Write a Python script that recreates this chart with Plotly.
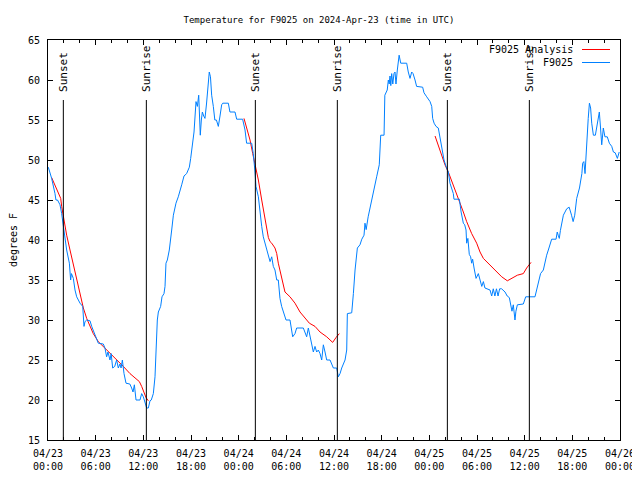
import pandas as pd
import plotly.graph_objects as go

BASE = pd.Timestamp("2024-04-23 00:00")

# Observed F9025 temperature (hours since 04/23 00:00 UTC, degrees F)
obs_hours = [0.04, 0.46, 0.88, 1.0, 1.2, 1.51, 1.72, 1.93, 2.14, 2.35, 2.69, 2.85, 2.95, 3.19, 3.40, 3.61,
             4.03, 4.37, 4.53, 4.66, 4.87, 5.29, 5.50, 5.92, 6.33, 6.96, 7.17, 7.38, 7.55, 7.80, 7.95, 8.14,
             8.4, 8.64, 8.85, 9.05, 9.2, 9.36, 9.57, 9.82, 10.3, 10.53, 10.7, 10.87, 11.08, 11.58, 11.79, 12.0,
             12.21, 12.42, 12.63, 12.84, 13.0, 13.26, 13.47, 13.6, 13.76, 13.89, 14.18, 14.35, 14.6, 14.73,
             14.85, 15.02, 15.27, 15.57, 15.78, 16.11, 16.4, 16.83, 17.12, 17.45, 17.79, 17.96, 18.17, 18.38,
             18.63, 18.8, 18.97, 19.05, 19.17, 19.3, 19.43, 19.6, 19.76, 19.95, 20.18, 20.3, 20.45, 20.6,
             20.81, 21.0, 21.2, 21.44, 21.65, 21.86, 22.0, 22.7, 22.9, 23.54, 23.75, 24.5, 24.8, 25.0, 25.64,
             25.84, 26.06, 26.18, 26.48, 26.69, 26.9, 27.1, 27.32, 27.53, 27.73, 27.95, 28.16, 28.36, 28.57,
             28.79, 28.99, 29.2, 29.41, 29.62, 29.96, 30.46, 30.67, 30.8, 31.09, 31.3, 32.14, 32.35, 32.56,
             32.77, 32.98, 33.19, 33.4, 33.61, 33.82, 34.03, 34.24, 34.45, 34.66, 34.87, 35.08, 35.5, 35.71,
             35.92, 36.34, 36.55, 36.76, 36.97, 37.39, 37.6, 37.68, 38.23, 38.44, 38.65, 38.94, 39.27, 39.5,
             39.78, 39.9, 40.05, 40.3, 40.5, 40.75, 40.95, 41.16, 41.37, 41.7, 41.88, 42.3, 42.4, 42.7, 42.84,
             42.95, 43.05, 43.15, 43.26, 43.4, 43.55, 43.68, 43.8, 43.97, 44.2, 44.4, 45.15, 45.35, 45.57,
             45.78, 45.95, 46.2, 46.4, 47.16, 47.33, 47.67, 48.09, 48.3, 48.42, 48.6, 48.84, 49.13, 49.34,
             49.56, 49.85, 50.1, 50.39, 50.6, 51.02, 51.1, 51.78, 52.0, 52.28, 52.45, 52.62, 52.7, 52.85,
             53.03, 53.2, 53.33, 53.45, 53.63, 53.88, 54.17, 54.35, 54.6, 54.8, 55.0, 55.64, 55.85, 56.05,
             56.25, 56.45, 56.65, 56.85, 57.1, 57.53, 57.8, 58.07, 58.24, 58.4, 58.57, 58.78, 58.9, 59.08,
             59.83, 60.13, 61.3, 61.5, 61.72, 62.0, 62.35, 62.56, 62.77, 62.98, 63.19, 63.4, 63.95, 64.1,
             64.22, 64.36, 64.5, 64.66, 64.87, 65.29, 65.6, 65.9, 66.1, 66.3, 66.55, 66.9, 67.2, 67.3, 67.45,
             67.6, 67.8, 68.0, 68.15, 68.3, 68.44, 68.65, 68.9, 69.07, 69.28, 69.4, 69.55, 69.7, 69.9, 70.1,
             70.4, 70.66, 70.96, 71.17, 71.4, 71.67, 71.9]
obs_temps = [49.1, 47.7, 45.8, 45, 45, 44.4, 43.3, 41.7, 40.4, 38.75, 37.1, 35, 35.8, 35.2, 33.75, 32.9,
             32.1, 31.7, 29.2, 29.8, 30, 29.9, 29.2, 28.1, 27.1, 27, 26.5, 25.4, 26, 25, 25.8, 24,
             24.2, 25, 24, 24.5, 24, 25, 23.3, 22.1, 22, 21.5, 21, 21.9, 20, 20, 20.8, 20.4,
             19.6, 19, 19, 19.9, 20, 20.8, 22.9, 26.25, 30, 31, 31.7, 32.9, 33.3, 34.2,
             37.1, 37.5, 38.75, 41.25, 43.1, 44.6, 45.4, 46.9, 48, 48.3, 49.1, 50.2, 51.7, 53.5,
             57.3, 56.7, 58.1, 54.6, 53.1, 55, 56, 55.5, 55.2, 57, 60, 61, 60.4, 58.1,
             56.7, 55, 55, 54.2, 55.5, 56.9, 57.1, 57.1, 56, 56, 55.1, 55.1, 53.75, 52.1, 52.1,
             50.8, 48.5, 46.7, 45.4, 43.3, 41.7, 40.4, 39.6, 38.75, 38.3, 37.3, 37.9, 36.7, 36.25,
             35, 35, 32.7, 31.7, 31.0, 30, 30, 28.75, 27.9, 28.3, 29, 29, 28.3, 27.9,
             29, 27.9, 26.9, 26.0, 26.7, 26.0, 26.25, 25.8, 25, 26.9, 26, 25, 25, 24.4,
             24, 24, 22.9, 23.3, 24, 25, 26.25, 30.8, 30.9, 33.3, 36.25, 39.0, 39.4, 40.1,
             40.6, 42.1, 41.3, 42.9, 43.9, 45.2, 46.25, 47.1, 47.9, 49.4, 53.1, 53.1, 58.1, 58.75, 60,
             59.5, 60.5, 59.3, 60.8, 59.5, 60.8, 61.0, 59.5, 61.25, 63.1, 62.1, 62.1, 61.0, 60.2,
             61, 60.8, 60, 59.2, 59.1, 58.4, 57.9, 57.3, 56.7, 55.2, 54.6, 54.2, 54.0, 52.9,
             51.5, 50, 49.2, 48.5, 47.1, 45.8, 45.1, 45.1, 43.5, 42.1, 41.9, 41.25, 39.6, 40.2,
             38.2, 37.9, 37.1, 37.6, 36.5, 35.2, 35.8, 35.2, 34.2, 34.8, 34.0, 33.75, 33.0, 33.9,
             33.0, 33.9, 33.0, 33.9, 33.9, 33.5, 33.0, 32.8, 31.7, 31.1, 31.9, 30, 31.1, 31.9,
             32.0, 32.9, 32.9, 33.75, 34.8, 35.8, 36.25, 37.3, 38.1, 38.75, 39.6, 40.1, 40.1, 41.0,
             40.6, 40.2, 41.2, 41.9, 43.1, 43.9, 44.1, 43.1, 42.3, 43.1, 45.2, 46.5, 48.3, 49.6, 49.8,
             48.3, 52.7, 55.2, 57.1, 56.5, 54.6, 53.1, 53.1, 54.0, 55.2, 56.0, 54, 51.9, 54.0, 52.9,
             52.9, 52.1, 51.7, 51.0, 50.9, 50.2, 51.0]

# F9025 Analysis, three overnight segments
ana1_hours = [0.46, 1.3, 1.6, 1.72, 1.93, 2.35, 2.77, 3.19, 3.61, 4.03, 4.45, 4.87, 5.29, 5.7, 6.33,
              7.17, 7.8, 8.64, 9.48, 10.32, 11.16, 11.5, 11.79, 12.08, 12.34, 12.63]
ana1_temps = [47.8, 46.0, 45.2, 44.2, 42.9, 40.6, 38.75, 36.9, 35, 33.1, 31.5, 30.2, 29.2, 28.3, 27.3,
              26.5, 25.8, 25, 24.2, 23.3, 22.6, 22.3, 21.7, 21.0, 20.3, 19.9]
ana2_hours = [24.67, 25.0, 25.43, 25.77, 26.06, 26.48, 26.9, 27.32, 27.74, 27.95, 28.16, 28.57, 28.79,
              28.99, 29.29, 29.54, 29.83, 30.46, 31.09, 31.72, 32.35, 32.9, 33.61, 34.24, 35.08, 35.83,
              36.25, 36.67]
ana2_temps = [55.2, 54.0, 52.5, 50.8, 49.6, 47.5, 45, 42.7, 40.3, 39.8, 39.6, 39.0, 38.3,
              37.1, 35.8, 34.6, 33.5, 32.9, 32.1, 31.0, 30.2, 29.6, 29.2, 28.5, 27.9, 27.2,
              27.8, 28.3]
ana3_hours = [48.72, 49.34, 49.97, 50.39, 51.02, 51.65, 52.28, 52.7, 53.33, 53.96, 54.38, 54.8, 55.43,
              56.27, 57.11, 57.82, 58.37, 59.08, 59.83, 60.25, 60.8]
ana3_temps = [53.0, 51.25, 49.4, 48.5, 46.9, 45.2, 43.5, 42.3, 40.8, 39.6, 38.5, 37.7, 37.1,
              36.25, 35.4, 34.9, 35.2, 35.6, 35.8, 36.5, 37.2]

# Sun events (hours since 04/23 00:00 UTC)
sun_hours = [1.93, 12.38, 26.1, 36.42, 50.27, 60.59]
sun_labels = ["Sunset", "Sunrise", "Sunset", "Sunrise", "Sunset", "Sunrise"]

title_text = "Temperature for F9025 on 2024-Apr-23 (time in UTC)"
y_title = "degrees F"


def to_time(hours):
    return [BASE + pd.Timedelta(hours=h) for h in hours]


FONT = "DejaVu Sans Mono"
RED = "#ff0000"
BLUE = "#0080ff"

# the page body adds an 8px offset; size the figure so it fills the 640x480 window
OFF = 8
W, H = 640 - OFF, 480 - OFF
# plot area in window pixels
L, R, T, B = 48, 620, 40, 440

ana_x, ana_y = [], []
for hs, ts in [(ana1_hours, ana1_temps), (ana2_hours, ana2_temps), (ana3_hours, ana3_temps)]:
    ana_x += to_time(hs) + [None]
    ana_y += ts + [None]

fig = go.Figure()
fig.add_trace(go.Scatter(x=ana_x, y=ana_y, mode="lines", name="F9025 Analysis",
                         line=dict(color=RED, width=1), connectgaps=False))
fig.add_trace(go.Scatter(x=to_time(obs_hours), y=obs_temps, mode="lines", name="F9025",
                         line=dict(color=BLUE, width=1)))

shapes = []
annotations = []
for h, lab in zip(sun_hours, sun_labels):
    t = BASE + pd.Timedelta(hours=h)
    shapes.append(dict(type="line", xref="x", yref="y", x0=t, x1=t, y0=15, y1=57.5,
                       line=dict(color="black", width=1)))
    annotations.append(dict(x=t, y=58.3, xref="x", yref="y", text=lab, textangle=-90,
                            showarrow=False, xanchor="center", yanchor="bottom",
                            font=dict(family=FONT, size=11, color="black")))


def px(xp):
    return (xp - L) / (R - L)


def py(yp):
    return (B - yp) / (B - T)


for i, (name, col) in enumerate([("F9025 Analysis", RED), ("F9025", BLUE)]):
    yy = 49.5 + i * 13
    annotations.append(dict(x=px(575), y=py(yy), xref="paper", yref="paper", text=name,
                            showarrow=False, xanchor="right", yanchor="middle",
                            font=dict(family=FONT, size=10, color="black")))
    shapes.append(dict(type="line", xref="paper", yref="paper", x0=px(582), x1=px(610),
                       y0=py(yy), y1=py(yy), line=dict(color=col, width=1)))

fig.update_layout(
    width=W, height=H, autosize=False,
    margin=dict(l=L - OFF, r=640 - R, t=T - OFF, b=480 - B, autoexpand=False),
    paper_bgcolor="white", plot_bgcolor="white",
    showlegend=False,
    title=dict(text=title_text, x=(319 - OFF) / W, xref="container", xanchor="center",
               y=1 - (20 - OFF) / H, yref="container", yanchor="middle", automargin=False,
               font=dict(family=FONT, size=9, color="black")),
    font=dict(family=FONT, size=10, color="black"),
    shapes=shapes, annotations=annotations,
)
fig.update_xaxes(type="date", range=[BASE, BASE + pd.Timedelta(hours=72)], automargin=False,
                 tick0=BASE, dtick=6 * 3600 * 1000, tickformat="%m/%d<br>%H:%M",
                 ticks="inside", ticklen=5, tickcolor="black", ticklabelstandoff=4,
                 minor=dict(dtick=2 * 3600 * 1000, ticks="inside", ticklen=3, tickcolor="black"),
                 showline=True, linecolor="black", linewidth=1, mirror="ticks",
                 showgrid=False, zeroline=False, tickfont=dict(family=FONT, size=10))
fig.update_yaxes(range=[15, 65], dtick=5, tick0=15, automargin=False,
                 ticks="inside", ticklen=5, tickcolor="black", ticklabelstandoff=5,
                 showline=True, linecolor="black", linewidth=1, mirror="ticks",
                 showgrid=False, zeroline=False, tickfont=dict(family=FONT, size=10),
                 title=dict(text=y_title, font=dict(family=FONT, size=10), standoff=17))

fig.write_html("out.html")
